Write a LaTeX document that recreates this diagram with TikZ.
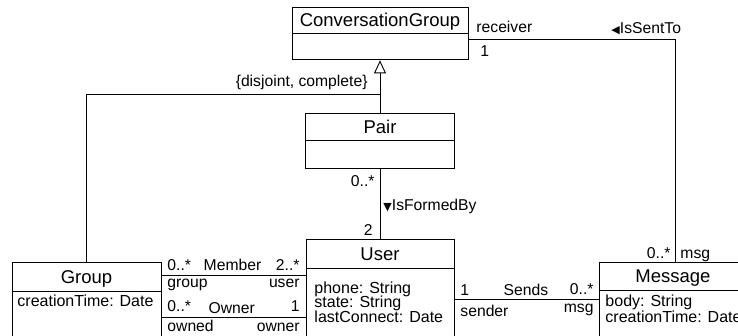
\documentclass[tikz,border=0pt]{standalone}
\usepackage{fontspec}
\setmainfont{Liberation Sans}
\newfontfamily\symfont{DejaVu Sans}
\usetikzlibrary{arrows.meta}

\tikzset{
    head/.style={draw, inner sep=0pt, text height=13pt, text depth=0pt, font=\fontsize{18.5}{20}\selectfont},
    body/.style={draw, inner sep=0pt, anchor=north},
    lbl/.style={inner sep=0pt, font=\fontsize{15.7}{17}\selectfont},
    attr/.style={inner sep=0pt, anchor=base west, font=\fontsize{16}{17}\selectfont}
}
\newcommand{\lefttri}{{\symfont\fontsize{11}{11}\selectfont ◀}}
\newcommand{\downtri}{{\symfont\fontsize{11}{11}\selectfont ▼}}

\begin{document}
\begin{tikzpicture}[x=1pt,y=-1pt,line width=0.9pt]
    \useasboundingbox (0,0) rectangle (738,335);
    \clip (0,0) rectangle (738,335);

    \node[head, minimum width=176pt, minimum height=25.5pt] (cghead) at (380,20.25) {ConversationGroup};
    \node[body, minimum width=176pt, minimum height=26pt] (cgbody) at (cghead.south) {};
    \node[head, minimum width=149pt, minimum height=27pt] (pairhead) at (380,126.5) {Pair};
    \node[body, minimum width=149pt, minimum height=28pt] (pairbody) at (pairhead.south) {};
    \node[head, minimum width=148pt, minimum height=28.5pt] (userhead) at (380,253.75) {User};
    \node[body, minimum width=148pt, minimum height=80pt] (userbody) at (userhead.south) {};
    \node[head, minimum width=149pt, minimum height=28.5pt] (grouphead) at (86.5,276.75) {Group};
    \node[body, minimum width=149pt, minimum height=60pt] (groupbody) at (grouphead.south) {};
    \node[head, minimum width=148pt, minimum height=27.5pt] (msghead) at (673,276.25) {Message};
    \node[body, minimum width=148pt, minimum height=60pt] (msgbody) at (msghead.south) {};

    \node[attr] (uphone) at (314,293) {phone: String};
    \node[attr] (ustate) at (314,307.7) {state: String};
    \node[attr] (ulast) at (314,322.7) {lastConnect: Date};
    \node[attr] (gtime) at (17,306.7) {creationTime: Date};
    \node[attr] (mbody) at (605,306.7) {body: String};
    \node[attr] (mtime) at (605,322.7) {creationTime: Date};

    \coordinate (gen) at (380,94);
    \coordinate (sent) at (675,39.3);
    \coordinate (memb) at (0,275.7);
    \coordinate (own) at (0,317.3);
    \coordinate (snd) at (0,299);

    \draw[-{Triangle[open,length=13pt,width=12pt]}] (pairhead.north) -- (cgbody.south);
    \draw (grouphead.north) |- (gen);
    \draw (cgbody.east |- sent) -- (sent) -- (sent |- msghead.north);
    \draw (pairbody.south) -- (userhead.north);
    \draw (grouphead.east |- memb) -- (userbody.west |- memb);
    \draw (groupbody.east |- own) -- (userbody.west |- own);
    \draw (userbody.east |- snd) -- (msgbody.west |- snd);

    \node[lbl, anchor=base west] (recv) at (476,32) {receiver};
    \node[lbl, anchor=base west] (recvm) at (480,56.5) {1};
    \node[lbl, anchor=base west] (sentto) at (611,33) {\lefttri IsSentTo};
    \node[lbl, anchor=base east] (gset) at (368,86) {\{disjoint, complete\}};
    \node[lbl, anchor=base east] (pairm) at (375,186.5) {0..*};
    \node[lbl, anchor=base west] (formed) at (383,210) {\downtri IsFormedBy};
    \node[lbl, anchor=base east] (userm) at (373,235) {2};

    \node[lbl, anchor=base west] (membg) at (167,270.7) {0..*};
    \node[lbl, anchor=base] (membn) at (232.5,270.7) {Member};
    \node[lbl, anchor=base east] (membu) at (300,270.7) {2..*};
    \node[lbl, anchor=base west] (rgroup) at (167,287) {group};
    \node[lbl, anchor=base east] (ruser) at (300,287) {user};
    \node[lbl, anchor=base west] (owng) at (167,311.7) {0..*};
    \node[lbl, anchor=base] (ownn) at (231.7,313) {Owner};
    \node[lbl, anchor=base east] (ownu) at (300,311.7) {1};
    \node[lbl, anchor=base west] (rowned) at (167,331) {owned};
    \node[lbl, anchor=base east] (rowner) at (300,331) {owner};

    \node[lbl, anchor=base west] (sndu) at (460,295) {1};
    \node[lbl, anchor=base] (sndn) at (526,295) {Sends};
    \node[lbl, anchor=base east] (sndm) at (594,294) {0..*};
    \node[lbl, anchor=base west] (rsender) at (460,316) {sender};
    \node[lbl, anchor=base east] (rmsg) at (594,312) {msg};
    \node[lbl, anchor=base east] (sentm) at (671,258) {0..*};
    \node[lbl, anchor=base west] (rmsg2) at (680,258) {msg};
\end{tikzpicture}
\end{document}
